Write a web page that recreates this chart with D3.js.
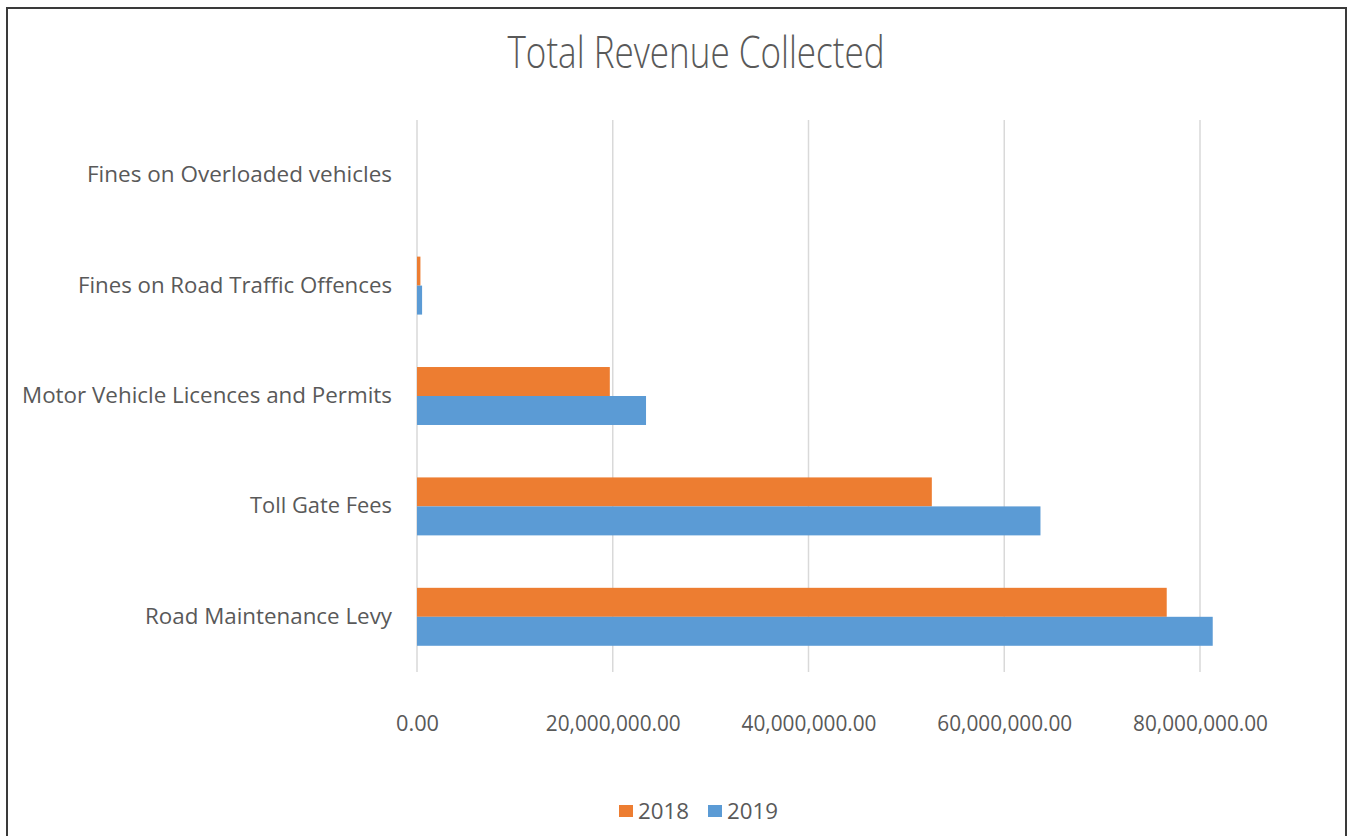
<!DOCTYPE html>
<html>
<head>
<meta charset="utf-8">
<script src="https://cdn.jsdelivr.net/npm/d3@7"></script>
<style>
  html, body { margin: 0; padding: 0; background: #fff; }
  svg { display: block; font-family: "Open Sans", "DejaVu Sans", sans-serif; }
</style>
</head>
<body>
<svg id="chart" width="1348" height="836"></svg>
<script>
// Revenue by source, top to bottom as drawn
const categories = [
  "Fines on Overloaded vehicles",
  "Fines on Road Traffic Offences",
  "Motor Vehicle Licences and Permits",
  "Toll Gate Fees",
  "Road Maintenance Levy"
];
const seriesNames = ["2018", "2019"];
const values2018 = [0, 350000, 19700000, 52600000, 76600000];
const values2019 = [0, 520000, 23400000, 63700000, 81300000];
const tickValues = [0, 20000000, 40000000, 60000000, 80000000];
const labelWidths = [305, 314, 370, 142, 247];

const colors = { "2018": "#ED7D31", "2019": "#5B9BD5" };
const textColor = "#595959";

const svg = d3.select("#chart");

// outer frame
svg.append("rect")
  .attr("x", 7).attr("y", 8)
  .attr("width", 1339).attr("height", 840)
  .attr("fill", "#fff")
  .attr("stroke", "#3a3a3a").attr("stroke-width", 2);

const plot = { left: 417, right: 1200, top: 120, bottom: 672 };

const x = d3.scaleLinear().domain([0, 80000000]).range([plot.left, plot.right]);
const y = d3.scaleBand().domain(categories)
  .range([plot.top, plot.bottom])
  .paddingInner(0.475).paddingOuter(0.2375);
const ySub = d3.scaleBand().domain(seriesNames).range([0, y.bandwidth()]);

// title
svg.append("text")
  .attr("x", 696).attr("y", 68)
  .attr("text-anchor", "middle")
  .attr("font-size", 44).attr("font-weight", 300)
  .attr("fill", textColor)
  .attr("textLength", 377).attr("lengthAdjust", "spacingAndGlyphs")
  .text("Total Revenue Collected");

// vertical gridlines
svg.append("g").selectAll("line")
  .data(tickValues).join("line")
  .attr("x1", d => x(d)).attr("x2", d => x(d))
  .attr("y1", plot.top).attr("y2", plot.bottom)
  .attr("stroke", "#d9d9d9").attr("stroke-width", 1.5);

// bottom axis labels
const fmt = d3.format(",.2f");
const xAxis = d3.axisBottom(x).tickValues(tickValues).tickFormat(fmt).tickSize(0).tickPadding(0);
const gx = svg.append("g").attr("transform", `translate(0,${plot.bottom})`).call(xAxis);
gx.select(".domain").remove();
gx.selectAll("text")
  .attr("y", 59).attr("dy", 0)
  .attr("font-size", 22)
  .attr("font-family", "\"Open Sans\", sans-serif")
  .attr("fill", textColor)
  .attr("textLength", d => d === 0 ? 43 : 135)
  .attr("lengthAdjust", "spacingAndGlyphs");

// category labels
const yAxis = d3.axisLeft(y).tickSize(0).tickPadding(25);
const gy = svg.append("g").attr("transform", `translate(${plot.left},0)`).call(yAxis);
gy.select(".domain").remove();
gy.selectAll("text")
  .attr("font-size", 22)
  .attr("font-family", "\"Open Sans\", sans-serif")
  .attr("fill", textColor)
  .attr("dy", "0.32em")
  .attr("textLength", (d, i) => labelWidths[i])
  .attr("lengthAdjust", "spacingAndGlyphs");

// bars
const rows = categories.map((c, i) => ({
  category: c,
  values: [
    { series: "2018", value: values2018[i] },
    { series: "2019", value: values2019[i] }
  ]
}));

svg.append("g").selectAll("g")
  .data(rows).join("g")
  .attr("transform", d => `translate(0,${y(d.category)})`)
  .selectAll("rect")
  .data(d => d.values).join("rect")
  .attr("x", x(0))
  .attr("y", d => ySub(d.series))
  .attr("width", d => x(d.value) - x(0))
  .attr("height", ySub.bandwidth())
  .attr("fill", d => colors[d.series]);

// legend
const legend = svg.append("g").attr("transform", "translate(619,805)");
const legendItems = legend.selectAll("g")
  .data(seriesNames).join("g")
  .attr("transform", (d, i) => `translate(${i * 89},0)`);
legendItems.append("rect")
  .attr("width", 14).attr("height", 12)
  .attr("fill", d => colors[d]);
legendItems.append("text")
  .attr("x", 19).attr("y", 14)
  .attr("font-size", 22)
  .attr("fill", textColor)
  .attr("textLength", 51).attr("lengthAdjust", "spacingAndGlyphs")
  .text(d => d);
</script>
</body>
</html>
